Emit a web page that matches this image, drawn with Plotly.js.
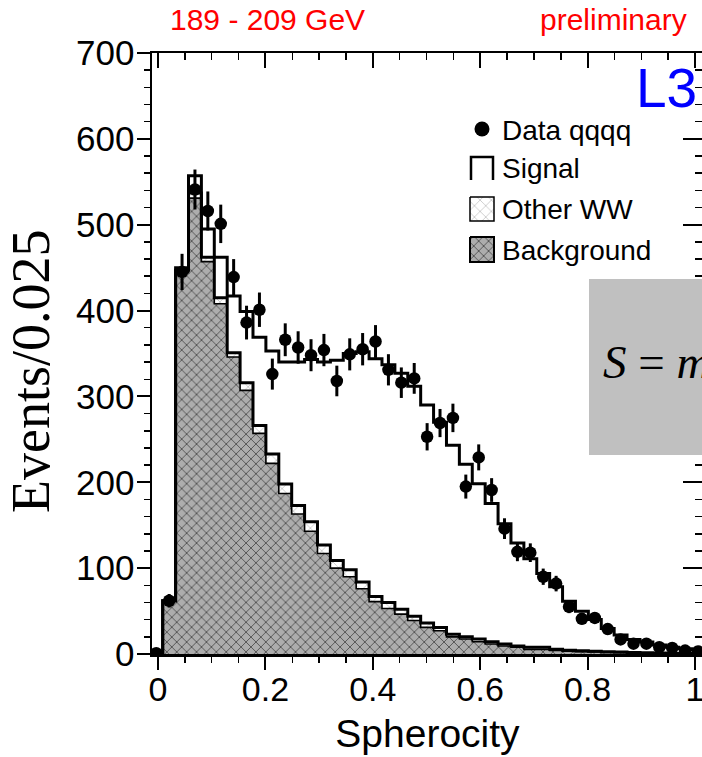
<!DOCTYPE html>
<html><head><meta charset="utf-8">
<script src="https://cdn.plot.ly/plotly-3.0.1.min.js"></script>
<style>html,body{margin:0;padding:0;overflow:hidden;background:#fff}</style>
</head><body><div id="chart"></div>
<script>
// ---- data ----
const binStart = 0.00875;     // left edge of first histogram bin (as drawn)
const binWidth = 0.02402;     // bin width as drawn
const dataFirstBin = -1;      // data points start one bin before the histogram
const dataCounts = [1,62,445,541,516,501,439,386,401,326,366,357,348,354,318,349,355,364,331,316,321,253,269,275,195,229,191,146,119,118,90,82,55,41,42,29,17,12,12,8,7,4,3];
const background = [62,444,531,457,408,346,307,257,222,187,163,143,117,100,90,76,61,53,46.5,39,31,27,20,17.4,14.3,11.6,9.3,7.8,5.4,5.4,4,3.3,2.8,2.3,1.9,1.6,1.3,1.1,0.9,0.7,0.5,0.4];
const otherWW = [0,3,6,5,7,5,9,9,11,11,10,11,10,9,8,8,6,7,5.5,5,5,4,3,2.6,3.1,2.7,2.3,1.5,2.4,2.4,1.4,1.2,1.0,0.9,0.8,0.6,0.5,0.4,0.3,0.3,0.3,0.2];
const signal = [0,3,20,33,47,66,83,103,120,142,167,189,213,233,252,268,277,277,275,268,254,239,220,201,181,161,140,120,103,86,73,57,46,37,27,20,15,12.5,9.3,7,5.2,4.4];
const xTickVals = [0,0.2,0.4,0.6,0.8,1];
const xTickText = ['0','0.2','0.4','0.6','0.8','1'];
const yTickVals = [0,100,200,300,400,500,600,700];
const yTickText = ['0','100','200','300','400','500','600','700'];
const legendLabels = ['Data qqqq','Signal','Other WW','Background'];

// ---- build stacked step outlines ----
const bgww = background.map((v,i)=>v+otherWW[i]);
const total = bgww.map((v,i)=>v+signal[i]);
function steps(vals){
  const xs=[binStart], ys=[0];
  for(let k=0;k<vals.length;k++){ xs.push(binStart+k*binWidth); ys.push(vals[k]); }
  xs.push(binStart+vals.length*binWidth); ys.push(vals[vals.length-1]);
  return {x:xs,y:ys};
}
const sBg=steps(background), sWW=steps(bgww), sTot=steps(total);
const dataX = dataCounts.map((_,i)=>binStart+(dataFirstBin+i+0.5)*binWidth);

const F='Liberation Sans, Arial, sans-serif';
const FS='Liberation Serif, Times New Roman, serif';
// page-pixel -> paper helpers (plot area spans x 152..703, y 53..654)
const PX=p=>(p-152)/551, PY=p=>(654-p)/601;

const denseBg={shape:'x',size:7,solidity:0.2,fgcolor:'#3a3a3a',bgcolor:'#adadad'};
const lightWW={shape:'x',size:8,solidity:0.1,fgcolor:'#8a8a8a',bgcolor:'#ffffff'};
const traces = [
  {x:sWW.x,y:sWW.y,mode:'lines',line:{shape:'hv',width:0,color:'black'},fill:'tozeroy',
   fillcolor:'white',fillpattern:lightWW,hoverinfo:'skip',showlegend:false},
  {x:sBg.x,y:sBg.y,mode:'lines',line:{shape:'hv',width:0,color:'black'},fill:'tozeroy',
   fillcolor:'#adadad',fillpattern:denseBg,hoverinfo:'skip',showlegend:false},
  {x:sBg.x,y:sBg.y,mode:'lines',line:{shape:'hv',width:1.6,color:'black'},hoverinfo:'skip',showlegend:false},
  {x:sWW.x,y:sWW.y,mode:'lines',line:{shape:'hv',width:3,color:'black'},hoverinfo:'skip',showlegend:false},
  {x:sTot.x,y:sTot.y,mode:'lines',line:{shape:'hv',width:3,color:'black'},hoverinfo:'skip',showlegend:false},
  {x:dataX,y:dataCounts,mode:'markers',marker:{size:12.5,color:'black'},
   error_y:{type:'sqrt',visible:true,color:'black',thickness:3,width:0},showlegend:false},
  // dummy trace to realise the mirrored top/right axes
  {x:[0.5],y:[-100],mode:'markers',marker:{opacity:0},xaxis:'x2',yaxis:'y2',hoverinfo:'skip',showlegend:false},
  // legend glyphs (pixel-space overlay subplot)
  {x:[482],y:[129],mode:'markers',marker:{size:15,color:'black'},xaxis:'x3',yaxis:'y3',hoverinfo:'skip',showlegend:false},
  {x:[471,471,493,493],y:[180,157,157,180],mode:'lines',line:{width:2.5,color:'black'},xaxis:'x3',yaxis:'y3',hoverinfo:'skip',showlegend:false},
  {x:[470,494,494,470,470],y:[197,197,221,221,197],mode:'lines',fill:'toself',fillcolor:'white',
   fillpattern:lightWW,line:{width:1.5,color:'black'},xaxis:'x3',yaxis:'y3',hoverinfo:'skip',showlegend:false},
  {x:[470,494,494,470,470],y:[237,237,262,262,237],mode:'lines',fill:'toself',fillcolor:'#adadad',
   fillpattern:denseBg,line:{width:2,color:'black'},xaxis:'x3',yaxis:'y3',hoverinfo:'skip',showlegend:false}
];

const xr=[-6/537, 545/537];
const common={showgrid:false,zeroline:false,linecolor:'black',linewidth:2.5,showline:true,tickcolor:'black'};
const layout = {
  width:710,height:757,margin:{l:152,r:7,t:53,b:103},
  paper_bgcolor:'white',plot_bgcolor:'rgba(0,0,0,0)',showlegend:false,
  xaxis:Object.assign({},common,{range:xr,anchor:'y',ticks:'outside',ticklen:13,tickwidth:2,
    tickvals:xTickVals,ticktext:xTickText,tickfont:{family:F,size:34,color:'black'},ticklabelstandoff:-9,
    minor:{tick0:0,dtick:0.05,ticks:'outside',ticklen:6,tickwidth:1.5,tickcolor:'black'},
    title:{text:'Spherocity',font:{family:F,size:39,color:'black'},standoff:13}}),
  yaxis:Object.assign({},common,{range:[0,700],anchor:'x',ticks:'outside',ticklen:13,tickwidth:2,
    tickvals:yTickVals,ticktext:yTickText,tickfont:{family:F,size:35,color:'black'},ticklabelstandoff:-5,
    minor:{tick0:0,dtick:20,ticks:'outside',ticklen:6,tickwidth:1.5,tickcolor:'black'}}),
  xaxis2:Object.assign({},common,{range:xr,overlaying:'x',side:'top',anchor:'y2',ticks:'inside',ticklen:15,tickwidth:2,
    tickvals:xTickVals,showticklabels:false,
    minor:{tick0:0,dtick:0.05,ticks:'inside',ticklen:7,tickwidth:1.5,tickcolor:'black'}}),
  yaxis2:Object.assign({},common,{range:[0,700],overlaying:'y',side:'right',anchor:'x2',ticks:'inside',ticklen:20,tickwidth:2,
    tickvals:yTickVals,showticklabels:false,
    minor:{tick0:0,dtick:20,ticks:'inside',ticklen:8,tickwidth:1.5,tickcolor:'black'}}),
  xaxis3:{domain:[0,1],range:[152,703],anchor:'y3',visible:false,fixedrange:true},
  yaxis3:{domain:[0,1],range:[654,53],anchor:'x3',visible:false,fixedrange:true},
  shapes:[{type:'rect',xref:'x3',yref:'y3',x0:589,x1:703,y0:279,y1:455,fillcolor:'#c0c0c0',line:{width:0},layer:'above'}],
  annotations:[
    {xref:'paper',yref:'paper',x:PX(168),y:PY(19),xanchor:'left',yanchor:'middle',text:'189 - 209 GeV',showarrow:false,font:{family:F,size:30,color:'#ff0000'}},
    {xref:'paper',yref:'paper',x:PX(689),y:PY(19),xanchor:'right',yanchor:'middle',text:'preliminary',showarrow:false,font:{family:F,size:30,color:'#ff0000'}},
    {xref:'paper',yref:'paper',x:PX(699),y:PY(88),xanchor:'right',yanchor:'middle',text:'L3',showarrow:false,font:{family:F,size:55,color:'#0000ff'}},
    {xref:'paper',yref:'paper',x:PX(500),y:PY(130),xanchor:'left',yanchor:'middle',text:legendLabels[0],showarrow:false,font:{family:F,size:28,color:'black'}},
    {xref:'paper',yref:'paper',x:PX(500),y:PY(168),xanchor:'left',yanchor:'middle',text:legendLabels[1],showarrow:false,font:{family:F,size:28,color:'black'}},
    {xref:'paper',yref:'paper',x:PX(500),y:PY(209),xanchor:'left',yanchor:'middle',text:legendLabels[2],showarrow:false,font:{family:F,size:28,color:'black'}},
    {xref:'paper',yref:'paper',x:PX(500),y:PY(250),xanchor:'left',yanchor:'middle',text:legendLabels[3],showarrow:false,font:{family:F,size:28,color:'black'}},
    {xref:'paper',yref:'paper',x:PX(601),y:PY(362),xanchor:'left',yanchor:'middle',text:'<i>S</i> = <i>m</i>',showarrow:false,font:{family:FS,size:47,color:'black'}},
    {xref:'paper',yref:'paper',x:PX(31),y:PY(372),xanchor:'center',yanchor:'middle',textangle:-90,text:'Events/0.025',showarrow:false,font:{family:FS,size:54,color:'black'}}
  ]
};
Plotly.newPlot('chart',traces,layout,{displayModeBar:false,staticPlot:true});
</script></body></html>
